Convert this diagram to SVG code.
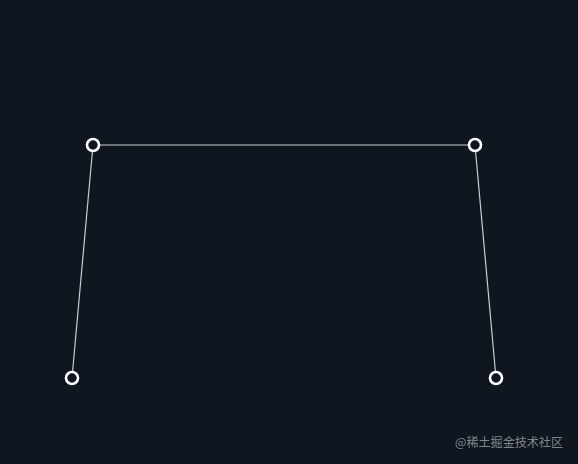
<svg xmlns="http://www.w3.org/2000/svg" width="578" height="464" viewBox="0 0 578 464">
<style>
.edge{stroke:#c9ccd1;stroke-width:1.2;fill:none}
.pt{fill:#0f1620;stroke:#ffffff;stroke-width:2.6}
.wm{font-family:"Noto Sans CJK SC","Noto Sans",sans-serif;font-size:12.5px;fill:#80858c}
</style>
<rect width="578" height="464" fill="#0f1620"/>
<g id="connectors">
<line class="edge" x1="93" y1="145" x2="475" y2="145"/>
<line class="edge" x1="93" y1="145" x2="72" y2="378"/>
<line class="edge" x1="475" y1="145" x2="496" y2="378"/>
</g>
<g id="p1"><circle class="pt" cx="93" cy="145" r="6"/></g>
<g id="p2"><circle class="pt" cx="475" cy="145" r="6"/></g>
<g id="p3"><circle class="pt" cx="72" cy="378" r="6"/></g>
<g id="p4"><circle class="pt" cx="496" cy="378" r="6"/></g>
<text class="wm" x="455" y="447" textLength="108" lengthAdjust="spacingAndGlyphs">@稀土掘金技术社区</text>
</svg>
